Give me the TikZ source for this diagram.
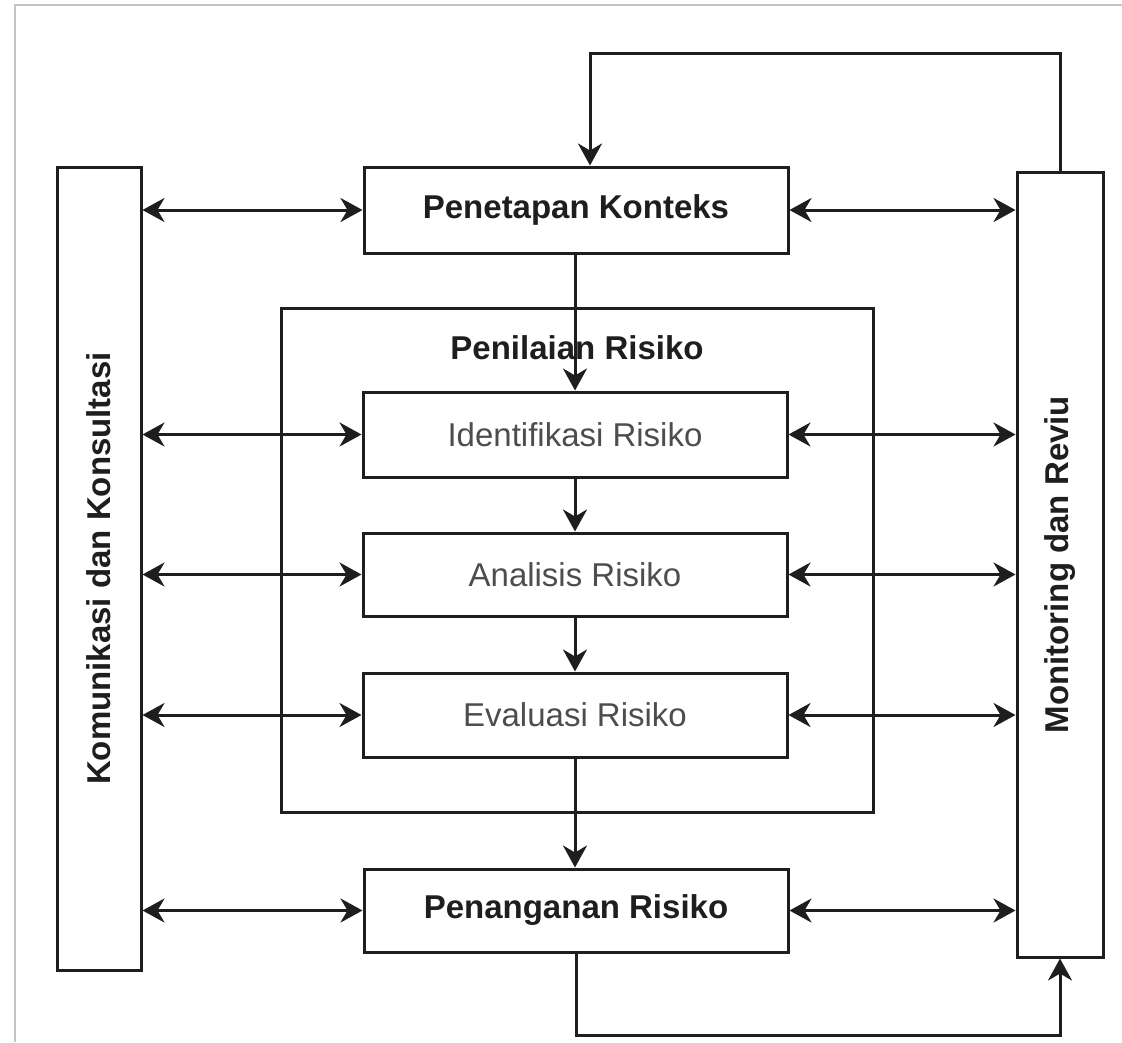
\documentclass[tikz,border=0pt]{standalone}
\usepackage{fontspec}
\setmainfont{Liberation Sans}
\usetikzlibrary{arrows.meta}
\definecolor{ink}{HTML}{1E1E1E}
\definecolor{txtgray}{HTML}{4D4D4D}
\definecolor{frame}{HTML}{C4C4C4}
\begin{document}
\begin{tikzpicture}[x=1pt,y=-1pt,
  box/.style={draw=ink, line width=3pt, inner sep=0pt, fill=white},
  bigtxt/.style={font=\fontsize{33}{40}\selectfont\bfseries, text=ink},
  smalltxt/.style={font=\fontsize{33}{40}\selectfont, text=txtgray},
  conn/.style={draw=ink, line width=3pt},
  arr/.style={conn, -{Stealth[length=22pt,width=24pt,inset=7pt]}},
  dbl/.style={conn, {Stealth[length=22pt,width=24pt,inset=7pt]}-{Stealth[length=22pt,width=24pt,inset=7pt]}}]
\useasboundingbox (0,0) rectangle (1122,1042);
% faint frame of the original screenshot
\draw[frame, line width=1.5pt] (15,1042) -- (15,5) -- (1122,5);

% outer assessment box
\node[box, minimum width=592pt, minimum height=504pt] (pn) at (577,560) {};
\node[bigtxt, inner sep=0pt] (pnl) at (577,348) {Penilaian Risiko};

% side boxes
\node[box, bigtxt, minimum width=84pt, minimum height=803pt] (kk) at (99,568.5)
  {\rotatebox{90}{Komunikasi dan Konsultasi}};
\node[box, bigtxt, minimum width=86pt, minimum height=785pt] (mr) at (1060,564.5)
  {\rotatebox{90}{Monitoring dan Reviu}};

% process boxes
\node[box, bigtxt, minimum width=424pt, minimum height=86pt] (pk) at (576,210) {Penetapan Konteks};
\node[box, smalltxt, minimum width=424pt, minimum height=85pt] (ir) at (575,434.5) {Identifikasi Risiko};
\node[box, smalltxt, minimum width=424pt, minimum height=83pt] (ar) at (575,574.5) {Analisis Risiko};
\node[box, smalltxt, minimum width=424pt, minimum height=84pt] (er) at (575,715) {Evaluasi Risiko};
\node[box, bigtxt, minimum width=424pt, minimum height=83pt] (pr) at (576,910.5) {Penanganan Risiko};

% vertical flow
\draw[arr] (pk.south -| ir.north) -- (ir.north);
\draw[arr] (ir.south) -- (ar.north);
\draw[arr] (ar.south) -- (er.north);
\draw[arr] (er.south) -- (er.south |- pr.north);

% left double arrows
\foreach \n in {pk,ir,ar,er,pr}
  \draw[dbl] (kk.east |- \n.west) -- (\n.west);
% right double arrows
\foreach \n in {pk,ir,ar,er,pr}
  \draw[dbl] (\n.east) -- (mr.west |- \n.east);

% feedback loops
\coordinate (tl) at (590,53);
\draw[arr] (mr.north) |- (tl) -- (tl |- pk.north);
\coordinate (bl) at (576,1035);
\draw[arr] (pr.south -| bl) -- (bl) -| (mr.south);
\end{tikzpicture}
\end{document}
